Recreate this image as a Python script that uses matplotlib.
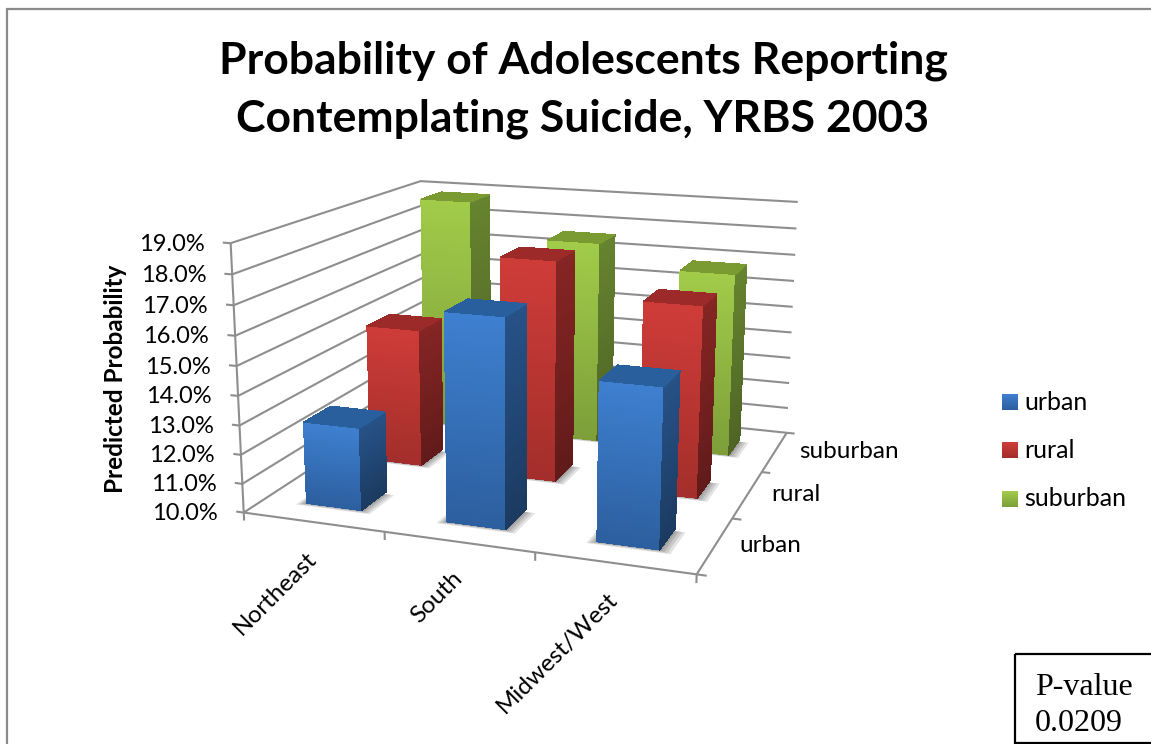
import numpy as np
import matplotlib
matplotlib.use("Agg")
import matplotlib.pyplot as plt
from matplotlib.colors import to_rgb
from matplotlib.patches import Rectangle
from mpl_toolkits.mplot3d.art3d import Poly3DCollection

WIDTH, HEIGHT = 1151, 744

regions = ["Northeast", "South", "Midwest/West"]
localities = ["urban", "rural", "suburban"]
urban = [12.85, 17.0, 15.25]
rural = [15.0, 17.85, 16.7]
suburban = [18.85, 17.6, 16.8]
y_ticks = [10, 11, 12, 13, 14, 15, 16, 17, 18, 19]
title_lines = ["Probability of Adolescents Reporting", "Contemplating Suicide, YRBS 2003"]

# (front top, front bottom, side top, side bottom, roof) for each series
palette = {
    "urban": ("#3E7FCF", "#2C5F9F", "#275287", "#1B3A60", "#2A5F9E"),
    "rural": ("#CE3C38", "#A32E2B", "#852524", "#611B1A", "#9B2A29"),
    "suburban": ("#A1CB49", "#7D9E39", "#66832F", "#4E6425", "#7A9B31"),
}
GRID = "#8E8E8E"
BAR_W = 0.40
BAR_D = 0.40

# Camera calibration: box corners (category, locality, percent) -> canvas pixels
box_corners = np.array([
    (0, 0, 10), (3, 0, 10), (3, 3, 10), (0, 3, 10),
    (0, 0, 19), (3, 3, 19), (0, 3, 19)], float)
canvas_corners = np.array([
    (244, 514), (696, 574), (787, 433), (424, 394),
    (231, 242), (798, 202), (420, 182)], float)


def solve_camera(world, canvas):
    """Direct linear transform from 3D box coordinates to canvas pixels (y up)."""
    rows = []
    for (x, y, z), (u, v) in zip(world, canvas):
        u, v = u / 1000, (HEIGHT - v) / 1000
        p = [x, y, z, 1]
        rows.append(p + [0, 0, 0, 0] + [-u * c for c in p])
        rows.append([0, 0, 0, 0] + p + [-v * c for c in p])
    cam = np.linalg.svd(np.array(rows))[2][-1].reshape(3, 4)
    cam[:2] *= 1000
    # Fourth row keeps the matrix invertible and supplies a depth value
    return np.vstack([cam[0], cam[1], [0, 0, 0, 1], cam[2]])


camera = solve_camera(box_corners, canvas_corners)


def to_canvas(x, y, z):
    """Canvas position (x right, y down) of a point in box coordinates."""
    px, py, _, w = camera @ np.array([x, y, z, 1.0])
    return px / w, HEIGHT - py / w


plt.rcParams["font.family"] = ["Lato", "DejaVu Sans"]
fig = plt.figure(figsize=(WIDTH / 100, HEIGHT / 100), dpi=100, facecolor="white")

# Flat layer in pixel coordinates for all text, frame, legend and note
flat = fig.add_axes([0, 0, 1, 1])
flat.plot([7, 7, WIDTH], [HEIGHT, 9, 9], color="#8A8A8A", lw=1.6, solid_joinstyle="miter")
flat.text(583, 61, title_lines[0], ha="center", va="center", fontsize=32, fontweight="bold", color="black")
flat.text(583, 119, title_lines[1], ha="center", va="center", fontsize=32, fontweight="bold", color="black")
flat.text(116, 379, "Predicted Probability", rotation=90, ha="center", va="center",
          fontsize=17.5, fontweight="bold", color="black")

# Legend
for name, top in zip(localities, (394, 442, 491)):
    c = palette[name]
    ramp = np.linspace(to_rgb(c[0]), to_rgb(c[1]), 16)[:, None, :]
    flat.imshow(ramp, extent=(1002, 1018, top + 16, top), aspect="auto", zorder=2)
    flat.text(1024, top + 8, name, ha="left", va="center", fontsize=18, color="black")

# Note box
flat.add_patch(Rectangle((1015, 654), 140, 88.5, fill=False, edgecolor="black", lw=1.6))
flat.text(1035, 695, "P-value", family="Liberation Serif", fontsize=23, ha="left", va="baseline")
flat.text(1035, 731, "0.0209", family="Liberation Serif", fontsize=23, ha="left", va="baseline")

n_cat, n_loc = len(regions), len(localities)

# Axis labels, placed from the projected axis positions
for z in y_ticks:
    px, py = to_canvas(0, 0, z)
    flat.text(px - 26, py + 1, f"{z:.1f}%", ha="right", va="center", fontsize=17, color="black")
for i, name in enumerate(regions):
    px, py = to_canvas(i + 0.5, 0, 10)
    flat.text(px, py + 33, name, rotation=45, rotation_mode="anchor", ha="right", va="center",
              fontsize=17.5, color="black")
for j, name in enumerate(localities):
    px, py = to_canvas(n_cat, j + 0.5, 10)
    flat.text(px + 24, py, name, ha="left", va="center", fontsize=17.5, color="black")

flat.set_xlim(0, WIDTH)
flat.set_ylim(HEIGHT, 0)
flat.axis("off")

# 3D layer driven by the calibrated camera
ax = fig.add_axes([0, 0, 1, 1], projection="3d", computed_zorder=False)
ax.set_proj_type("ortho")
ax.get_proj = lambda: camera
ax.apply_aspect = lambda position=None: None
ax.viewLim.intervalx = (0, WIDTH)
ax.viewLim.intervaly = (0, HEIGHT)
ax.set_axis_off()
ax.patch.set_visible(False)


def line(xs, ys, zs, lw=1.5):
    ax.plot(xs, ys, zs, color=GRID, lw=lw, solid_capstyle="butt", zorder=1)


# Walls and tick marks
for z in y_ticks:
    line([0, 0, n_cat], [0, n_loc, n_loc], [z, z, z])
    line([-0.055, 0], [0, 0], [z, z])
line([0, 0], [0, 0], [y_ticks[0], y_ticks[-1]])
line([0, n_cat], [0, 0], [10, 10])
line([n_cat, n_cat], [0, n_loc], [10, 10])
for i in range(n_cat + 1):
    line([i, i], [0, 0], [10, 9.72])
for j in range(n_loc + 1):
    line([n_cat, n_cat + 0.06], [j, j], [10, 10])


def slab_faces(corner_a, corner_b, base, top, colour_top, colour_bottom, steps=48):
    """Vertical wall from corner_a to corner_b, cut in slices for a colour ramp."""
    levels = np.linspace(top, base, steps + 1)
    ramp = np.linspace(to_rgb(colour_top), to_rgb(colour_bottom), steps)
    faces = [[(*corner_a, levels[k]), (*corner_b, levels[k]),
              (*corner_b, levels[k + 1]), (*corner_a, levels[k + 1])] for k in range(steps)]
    return faces, ramp


def add_poly(faces, colours, zorder, alpha=None):
    poly = Poly3DCollection(faces, facecolors=colours, edgecolors="none", linewidths=0,
                            alpha=alpha, antialiaseds=alpha is not None, zorder=zorder)
    ax.add_collection3d(poly, autolim=False)


def bar(i, j, value, colours, zorder):
    x0, x1 = i + (1 - BAR_W) / 2, i + (1 + BAR_W) / 2
    y0, y1 = j + (1 - BAR_D) / 2, j + (1 + BAR_D) / 2
    # Soft floor shadow built from stacked translucent layers
    for grow in (0.055, 0.04, 0.025, 0.012):
        add_poly([[(x0 - grow, y0 - grow * 0.8, 10), (x1 + grow * 1.4, y0 - grow * 0.8, 10),
                   (x1 + grow * 1.4, y1 - 0.05, 10), (x0 - grow, y1 - 0.05, 10)]],
                 "#000000", zorder, alpha=0.11)
    front, front_c = slab_faces((x0, y0), (x1, y0), 10, value, colours[0], colours[1])
    side, side_c = slab_faces((x1, y0), (x1, y1), 10, value, colours[2], colours[3])
    add_poly(front, front_c, zorder + 1)
    add_poly(side, side_c, zorder + 1)
    add_poly([[(x0, y0, value), (x1, y0, value), (x1, y1, value), (x0, y1, value)]],
             colours[4], zorder + 1)


for j, (name, series) in reversed(list(enumerate(zip(localities, (urban, rural, suburban))))):
    for i, value in enumerate(series):
        bar(i, j, value, palette[name], 3 + 10 * (n_loc - j) + i)

fig.savefig("out.png", dpi=100)
